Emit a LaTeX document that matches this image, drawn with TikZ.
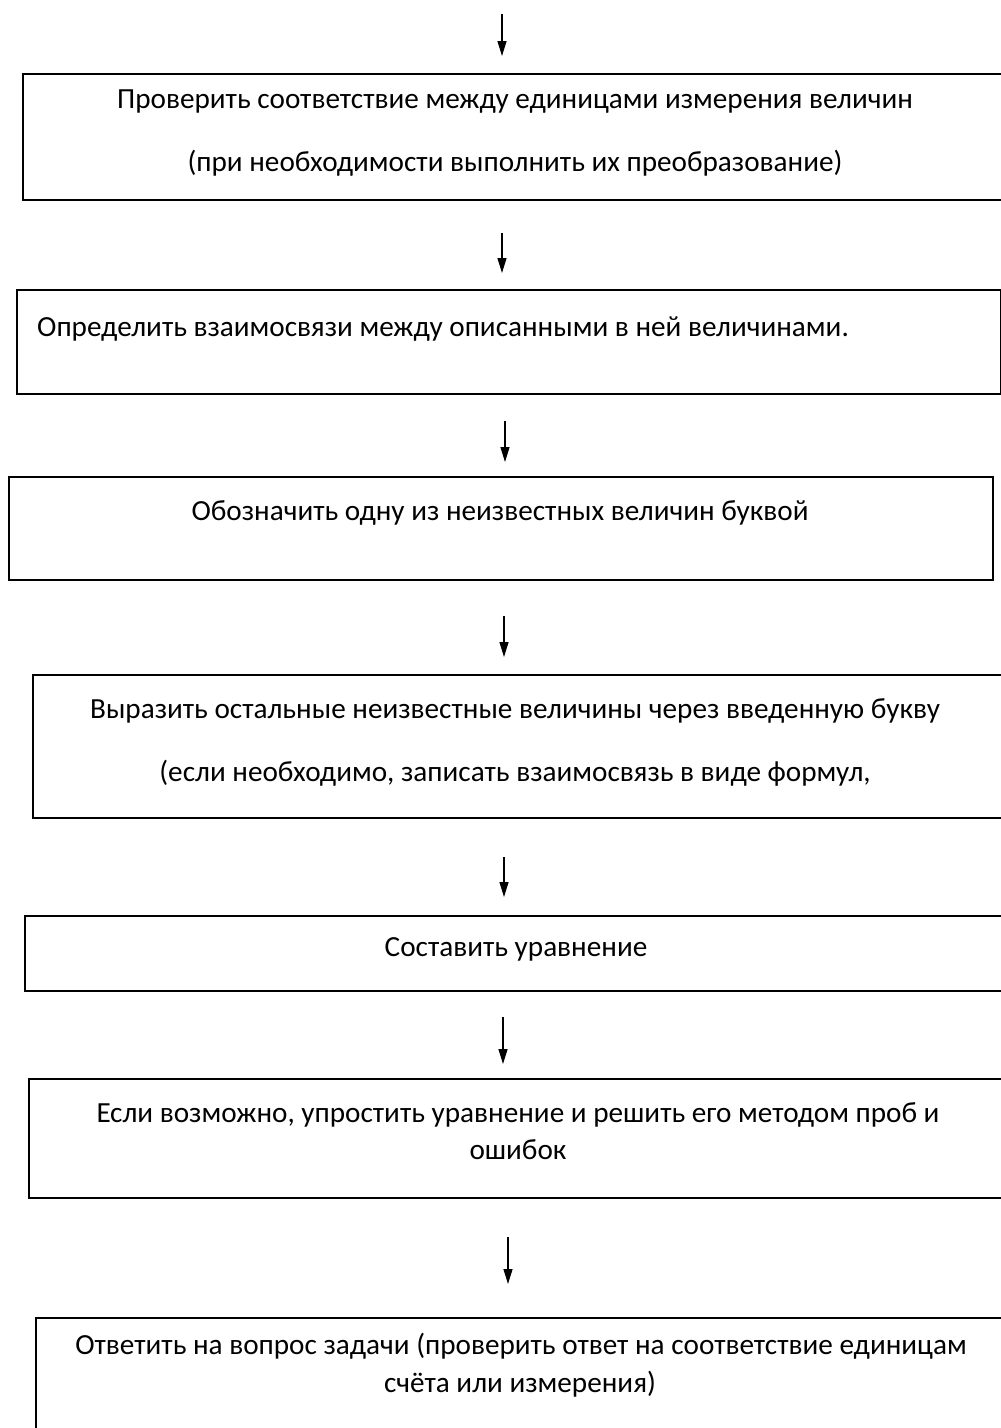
\documentclass[tikz,border=0pt]{standalone}
\usepackage{fontspec}
\setmainfont{Carlito}
\usetikzlibrary{arrows.meta}
\begin{document}
\begin{tikzpicture}[x=1pt,y=-1pt,
  boxshape/.style={draw=black,line width=1.8pt,rectangle,inner sep=0pt,anchor=north west},
  txt/.style={font=\fontsize{29.2}{35}\selectfont,anchor=base,inner sep=0pt},
  arr/.style={line width=1.3pt,-{Triangle[width=9pt,length=15pt]}}]
\useasboundingbox (0,0) rectangle (1001,1428);
\clip (0,0) rectangle (1001,1428);
\fill[white] (0,0) rectangle (1001,1428);
% boxes
\node[boxshape,minimum width=990pt,minimum height=126pt] (b1) at (22,73) {};
\node[boxshape,minimum width=984pt,minimum height=104pt] (b2) at (16,289) {};
\node[boxshape,minimum width=984pt,minimum height=103pt] (b3) at (8,476) {};
\node[boxshape,minimum width=980pt,minimum height=143pt] (b4) at (32,674) {};
\node[boxshape,minimum width=988pt,minimum height=75pt] (b5) at (24,915) {};
\node[boxshape,minimum width=984pt,minimum height=119pt] (b6) at (28,1078) {};
\node[boxshape,minimum width=980pt,minimum height=140pt] (b7) at (35,1317) {};
% texts
\node[txt] (t1a) at (515,108) {Проверить соответствие между единицами измерения величин};
\node[txt] (t1b) at (515,171) {(при необходимости выполнить их преобразование)};
\node[txt,anchor=base west] (t2) at (37,336) {Определить взаимосвязи между описанными в ней величинами.};
\node[txt] (t3) at (500,520) {Обозначить одну из неизвестных величин буквой};
\node[txt] (t4a) at (515,718) {Выразить остальные неизвестные величины через введенную букву};
\node[txt] (t4b) at (515,781) {(если необходимо, записать взаимосвязь в виде формул,};
\node[txt] (t5) at (516,956) {Составить уравнение};
\node[txt] (t6a) at (518,1122) {Если возможно, упростить уравнение и решить его методом проб и};
\node[txt] (t6b) at (518,1159) {ошибок};
\node[txt] (t7a) at (521,1354) {Ответить на вопрос задачи (проверить ответ на соответствие единицам};
\node[txt] (t7b) at (520,1392) {счёта или измерения)};
% arrow end points
\coordinate (s1) at (502,14);   \coordinate (e1) at (502,56);
\coordinate (s2) at (502,233);  \coordinate (e2) at (502,273);
\coordinate (s3) at (505,421);  \coordinate (e3) at (505,462);
\coordinate (s4) at (504,616);  \coordinate (e4) at (504,657);
\coordinate (s5) at (504,857);  \coordinate (e5) at (504,897);
\coordinate (s6) at (503,1017); \coordinate (e6) at (503,1064);
\coordinate (s7) at (508,1237); \coordinate (e7) at (508,1284);
\draw[arr] (s1) -- (e1);
\draw[arr] (s2) -- (e2);
\draw[arr] (s3) -- (e3);
\draw[arr] (s4) -- (e4);
\draw[arr] (s5) -- (e5);
\draw[arr] (s6) -- (e6);
\draw[arr] (s7) -- (e7);
\end{tikzpicture}
\end{document}
